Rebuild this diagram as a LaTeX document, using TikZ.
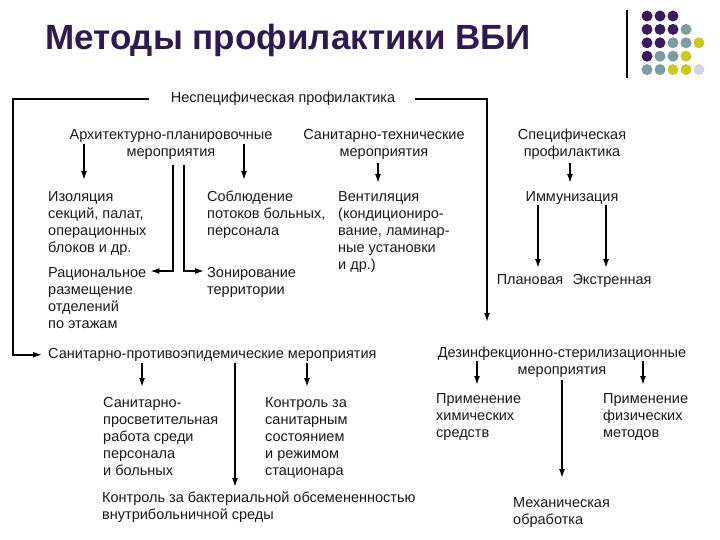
\documentclass[tikz,border=0pt]{standalone}
\usepackage{fontspec}
\setmainfont{Liberation Sans}
\usetikzlibrary{arrows.meta}

\definecolor{titlecol}{HTML}{2E1A4F}
\definecolor{dotp}{HTML}{3A1C5C}
\definecolor{dott}{HTML}{7D9CA0}
\definecolor{doty}{HTML}{CCC722}
\definecolor{dotg}{HTML}{D3D6E0}
\newcommand{\bodyfont}{\fontsize{14.5}{17}\selectfont}

\begin{document}
\begin{tikzpicture}[x=1pt, y=-1pt,
    txt/.style = {inner sep=0pt, align=left, anchor=north west, text=black!90, font=\bodyfont},
    ctxt/.style = {txt, align=center, anchor=north},
    arr/.style = {-{Latex[length=9pt,width=6pt]}, line width=1.5pt},
    ln/.style = {line width=1.5pt}]
    \useasboundingbox (0,0) rectangle (720,540);

    % title and corner dots
    \node[anchor=base west, inner sep=0pt, text=titlecol, font=\bfseries\fontsize{35}{40}\selectfont] (1) at (45,50) {Методы профилактики ВБИ};
    \draw[line width=1.2pt] (627,10) -- (627,78);
    \foreach \x/\y/\col in {0/0/dotp, 1/0/dotp, 2/0/dotp,
        0/1/dotp, 1/1/dotp, 2/1/dotp, 3/1/dott,
        0/2/dotp, 1/2/dotp, 2/2/dott, 3/2/dott, 4/2/doty,
        0/3/dotp, 1/3/dott, 2/3/dott, 3/3/doty,
        0/4/dott, 1/4/dott, 2/4/doty, 3/4/doty, 4/4/dotg}
        \fill[\col] ({647+13*\x},{16+13.4*\y}) circle (5.5pt);

    \node[ctxt] (2) at (283,92) {Неспецифическая профилактика};
    \node[ctxt] (3) at (171,129) {Архитектурно-планировочные\\мероприятия};
    \node[ctxt] (4) at (384,129) {Санитарно-технические\\мероприятия};
    \node[ctxt] (5) at (572,129) {Специфическая\\профилактика};
    \node[txt] (6) at (48,191) {Изоляция\\секций, палат,\\операционных\\блоков и др.};
    \node[txt] (7) at (207,191) {Соблюдение\\потоков больных,\\персонала};
    \node[txt] (8) at (338,191) {Вентиляция\\(кондициониро-\\вание, ламинар-\\ные установки\\и др.)};
    \node[ctxt] (9) at (572,191) {Иммунизация};
    \node[txt] (10) at (48,267) {Рациональное\\размещение\\отделений\\по этажам};
    \node[txt] (11) at (207,267) {Зонирование\\территории};
    \node[ctxt] (12) at (530,274) {Плановая};
    \node[ctxt] (13) at (612,274) {Экстренная};
    \node[txt] (14) at (48,348) {Санитарно-противоэпидемические мероприятия};
    \node[ctxt] (15) at (562,347) {Дезинфекционно-стерилизационные\\мероприятия};
    \node[txt] (16) at (103,397) {Санитарно-\\просветительная\\работа среди\\персонала\\и больных};
    \node[txt] (17) at (265,397) {Контроль за\\санитарным\\состоянием\\и режимом\\стационара};
    \node[txt] (18) at (436,393) {Применение\\химических\\средств};
    \node[txt] (19) at (603,393) {Применение\\физических\\методов};
    \node[txt] (20) at (102,492) {Контроль за бактериальной обсемененностью\\внутрибольничной среды};
    \node[txt] (21) at (513,497) {Механическая\\обработка};

    \draw[arr, shorten >=6pt] ([xshift=-22pt]2.west) -| (13,0 |- 14.west) -- (14.west);
    \draw[arr, shorten >=25pt] ([xshift=20pt]2.east) -| (487,0 |- 15.north);
    \draw[arr, shorten >=11pt] (84,0 |- 3.east) -- (84,0 |- 6.north);
    \draw[arr, shorten >=11pt] (244,0 |- 3.east) -- (244,0 |- 7.north);
    \draw[arr, shorten <=6pt] (173,0 |- 3.south) |- ([xshift=4pt,yshift=-4pt]10.north east);
    \draw[arr, shorten <=6pt] (184,0 |- 3.south) |- ([xshift=-3pt,yshift=-4pt]11.north west);
    \draw[arr, shorten <=3pt, shorten >=8pt] (378,0 |- 4.south) -- (378,0 |- 8.north);
    \draw[arr, shorten <=3pt, shorten >=8pt] (570,0 |- 5.south) -- (570,0 |- 9.north);
    \draw[arr, shorten <=1pt, shorten >=6pt] (538,0 |- 9.south) -- (538,0 |- 12.north);
    \draw[arr, shorten <=1pt, shorten >=6pt] (606,0 |- 9.south) -- (606,0 |- 13.north);
    \draw[arr, shorten <=1pt, shorten >=10pt] (142,0 |- 14.south) -- (142,0 |- 16.north);
    \draw[arr, shorten <=1pt, shorten >=5pt] (235,0 |- 14.south) -- (235,0 |- 20.north);
    \draw[arr, shorten <=1pt, shorten >=10pt] (307,0 |- 14.south) -- (307,0 |- 17.north);
    \draw[arr, shorten <=14pt, shorten >=8pt] (477,0 |- 15.north) -- (477,0 |- 18.north);
    \draw[arr, shorten <=14pt, shorten >=8pt] (643,0 |- 15.north) -- (643,0 |- 19.north);
    \draw[arr, shorten <=2pt, shorten >=19pt] (562,0 |- 15.south) -- (562,0 |- 21.north);
\end{tikzpicture}
\end{document}
